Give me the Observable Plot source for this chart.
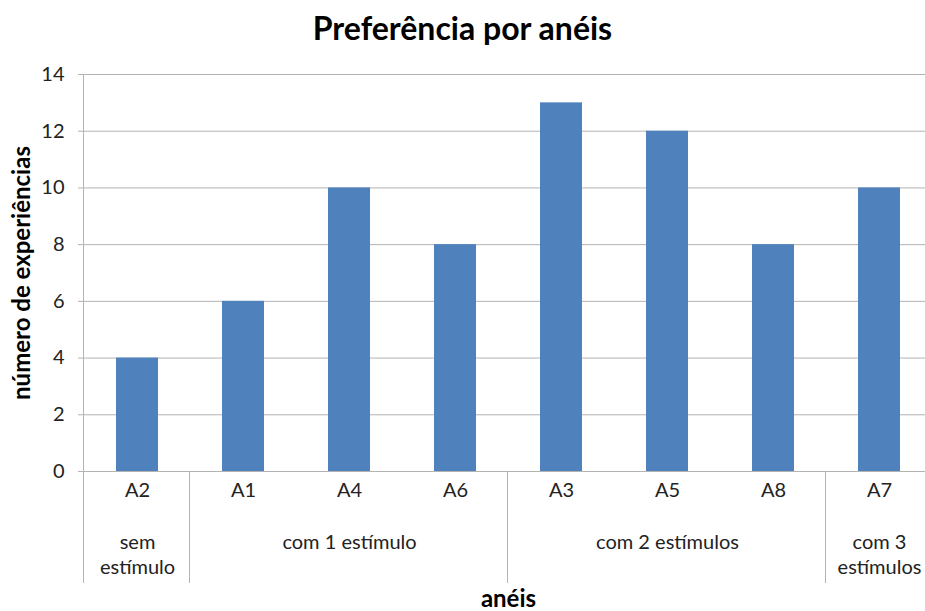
<!DOCTYPE html>
<html>
<head>
<meta charset="utf-8">
<script src="https://cdn.jsdelivr.net/npm/d3@7"></script>
<script src="https://cdn.jsdelivr.net/npm/@observablehq/plot@0.6"></script>
<style>
  body { margin: 0; background: #fff; font-family: Lato, sans-serif; }
  #title { height: 55px; line-height: 55px; text-align: center; font-weight: bold; font-size: 32px; color: #000; width: 925px; }
  svg { display: block; }
</style>
</head>
<body>
<div id="title">Preferência por anéis</div>
<div id="chart"></div>
<script>
const categories = ["A2", "A1", "A4", "A6", "A3", "A5", "A8", "A7"];
const values = [4, 6, 10, 8, 13, 12, 8, 10];
const groupLabels = ["sem\nestímulo", "com 1 estímulo", "com 2 estímulos", "com 3\nestímulos"];
const groupStart = ["A2", "A1", "A3", "A7"];
const groupMiddle = ["A2", "A4", "A5", "A7"];
const yTicks = [0, 2, 4, 6, 8, 10, 12, 14];
const yLabel = "número de experiências";
const xLabel = "anéis";

const data = categories.map((c, i) => ({cat: c, value: values[i]}));
const groups = groupLabels.map((g, i) => ({label: g, mid: groupMiddle[i], start: groupStart[i]}));

const gridColor = "#b3b3b3";
const textColor = "#222";

const separators = (index, scales, values, dims) => {
  const x = scales.x;
  const step = typeof x.step === "function" ? x.step() :
    (dims.width - dims.marginLeft - dims.marginRight) / categories.length;
  const bw = typeof x.bandwidth === "function" ? x.bandwidth() : step * 0.4;
  const yBase = scales.y(0);
  const g = d3.create("svg:g").attr("stroke", gridColor).attr("stroke-width", 1);
  groups.forEach((gr, i) => {
    const xs = Math.round(x(gr.start) + bw / 2 - step / 2) - 0.5;
    g.append("line")
      .attr("x1", xs).attr("x2", xs)
      .attr("y1", i === 0 ? dims.marginTop : yBase)
      .attr("y2", yBase + 112);
  });
  return g.node();
};

const chart = Plot.plot({
  width: 925,
  height: 556,
  marginTop: 19,
  marginBottom: 140,
  marginLeft: 84,
  marginRight: -7,
  style: {fontFamily: "Lato, sans-serif", fontSize: "20px", color: "#000", background: "#fff", overflow: "hidden"},
  x: {domain: categories, paddingInner: 0.6, paddingOuter: 0.3, axis: null},
  y: {domain: [0, 14], axis: null},
  marks: [
    Plot.ruleY(yTicks, {stroke: gridColor, strokeWidth: 1}),
    Plot.axisY({ticks: yTicks, tickSize: 6, tickPadding: 14, stroke: gridColor, strokeOpacity: 1, label: null, fontSize: 20, fill: textColor}),
    Plot.barY(data, {x: "cat", y: "value", fill: "#4f81bd"}),
    separators,
    Plot.text(categories, {x: d => d, frameAnchor: "bottom", dy: 25, fontSize: 20, fill: textColor}),
    Plot.text(groups, {x: "mid", text: "label", frameAnchor: "bottom", lineAnchor: "top", dy: 60, lineHeight: 1.25, fontSize: 20, fill: textColor}),
    Plot.text([yLabel], {frameAnchor: "left", textAnchor: "middle", rotate: -90, dx: -62, fontSize: 24, fontWeight: "bold", fill: "#000"}),
    Plot.text([xLabel], {frameAnchor: "bottom", dy: 135, fontSize: 24, fontWeight: "bold", fill: "#000"})
  ]
});
document.getElementById("chart").appendChild(chart);
</script>
</body>
</html>
